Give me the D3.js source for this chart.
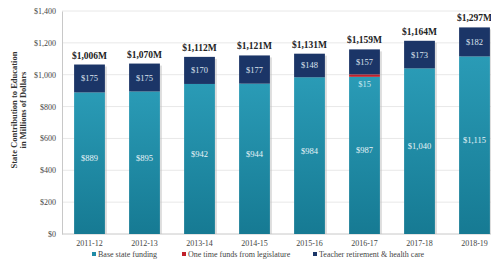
<!DOCTYPE html>
<html>
<head>
<meta charset="utf-8">
<script src="https://cdn.jsdelivr.net/npm/d3@7"></script>
<style>
  body { margin: 0; background: #fff; }
  svg { display: block; font-family: "Liberation Serif", "DejaVu Serif", serif; }
</style>
</head>
<body>
<div id="chart"></div>
<script>
// chart data
const years = ['2011-12', '2012-13', '2013-14', '2014-15', '2015-16', '2016-17', '2017-18', '2018-19'];
const baseFunding = [889, 895, 942, 944, 984, 987, 1040, 1115];
const oneTimeFunds = [0, 0, 0, 0, 0, 15, 0, 0];
const teacherRetirement = [175, 175, 170, 177, 148, 157, 173, 182];
const totalLabels = ['$1,006M', '$1,070M', '$1,112M', '$1,121M', '$1,131M', '$1,159M', '$1,164M', '$1,297M'];
const yTicks = [0, 200, 400, 600, 800, 1000, 1200, 1400];
const seriesNames = ['Base state funding', 'One time funds from legislature', 'Teacher retirement & health care'];
const colors = ['#1f8ba6', '#c0202a', '#1b3567'];

const W = 491, H = 264;
const margin = {top: 11, right: 0, bottom: 30, left: 62};
const plotH = H - margin.top - margin.bottom;

const svg = d3.select('#chart').append('svg')
	.attr('width', W)
	.attr('height', H);

const defs = svg.append('defs');
const grad = defs.append('linearGradient')
	.attr('id', 'baseGrad')
	.attr('x1', 0).attr('y1', 0).attr('x2', 0).attr('y2', 1);
grad.append('stop').attr('offset', '0%').attr('stop-color', '#2a9bb6');
grad.append('stop').attr('offset', '100%').attr('stop-color', '#167a93');

const g = svg.append('g')
	.attr('transform', `translate(${margin.left},${margin.top})`);

const x = d3.scaleBand()
	.domain(years)
	.range([0, 440])
	.paddingInner(0.44)
	.paddingOuter(0.22);

const y = d3.scaleLinear()
	.domain([0, 1400])
	.range([plotH, 0]);

// gridlines
g.selectAll('line.grid')
	.data(yTicks.slice(1))
	.join('line')
	.attr('class', 'grid')
	.attr('x1', 0).attr('x2', W)
	.attr('y1', d => y(d)).attr('y2', d => y(d))
	.attr('stroke', '#e8e8e8')
	.attr('stroke-width', 1);

// y axis
const yAxis = g.append('g')
	.call(d3.axisLeft(y).tickValues(yTicks).tickSize(0).tickPadding(6)
		.tickFormat(d => '$' + d3.format(',')(d)));
yAxis.select('.domain').attr('stroke', '#c8c8c8');
yAxis.selectAll('text')
	.attr('font-family', '"Liberation Serif", serif')
	.attr('font-size', 8)
	.attr('fill', '#444');

// x axis
const xAxis = g.append('g')
	.attr('transform', `translate(0,${plotH})`)
	.call(d3.axisBottom(x).tickSize(0).tickPadding(6));
xAxis.select('.domain').attr('stroke', '#c8c8c8').attr('d', `M0,0H${W}`);
xAxis.selectAll('text')
	.attr('font-family', '"Liberation Serif", serif')
	.attr('font-size', 8)
	.attr('fill', '#444');

// stacked data
const rows = years.map((yr, i) => ({
	year: yr, base: baseFunding[i], onetime: oneTimeFunds[i], teacher: teacherRetirement[i]
}));
const stack = d3.stack().keys(['base', 'onetime', 'teacher']);
const layers = stack(rows);

const fills = ['url(#baseGrad)', colors[1], colors[2]];

// shadow behind bars
g.selectAll('rect.shadow')
	.data(rows)
	.join('rect')
	.attr('class', 'shadow')
	.attr('x', d => x(d.year) + 2)
	.attr('y', d => y(d.base + d.onetime + d.teacher) + 2)
	.attr('width', x.bandwidth())
	.attr('height', d => plotH - y(d.base + d.onetime + d.teacher) - 2)
	.attr('fill', '#bbb')
	.attr('opacity', 0.5);

layers.forEach((layer, li) => {
	g.selectAll('rect.s' + li)
		.data(layer)
		.join('rect')
		.attr('class', 's' + li)
		.attr('x', d => x(d.data.year))
		.attr('y', d => y(d[1]))
		.attr('width', x.bandwidth())
		.attr('height', d => y(d[0]) - y(d[1]))
		.attr('fill', fills[li]);
});

const labelFont = '"Liberation Serif", serif';

// base labels
g.selectAll('text.baseLbl')
	.data(layers[0])
	.join('text')
	.attr('class', 'baseLbl')
	.attr('x', d => x(d.data.year) + x.bandwidth() / 2)
	.attr('y', d => (y(d[0]) + y(d[1])) / 2 - 2)
	.attr('text-anchor', 'middle')
	.attr('font-family', labelFont)
	.attr('font-size', 8.5)
	.attr('fill', '#e8f4f8')
	.text(d => '$' + d3.format(',')(d.data.base));

// one time label
g.selectAll('text.oneLbl')
	.data(layers[1].filter(d => d.data.onetime > 0))
	.join('text')
	.attr('class', 'oneLbl')
	.attr('x', d => x(d.data.year) + x.bandwidth() / 2)
	.attr('y', d => y(d[0]) + 10)
	.attr('text-anchor', 'middle')
	.attr('font-family', labelFont)
	.attr('font-size', 8.5)
	.attr('fill', '#cfe9f2')
	.text(d => '$' + d.data.onetime);

// teacher labels
g.selectAll('text.teachLbl')
	.data(layers[2])
	.join('text')
	.attr('class', 'teachLbl')
	.attr('x', d => x(d.data.year) + x.bandwidth() / 2)
	.attr('y', d => (y(d[0]) + y(d[1])) / 2 + 3)
	.attr('text-anchor', 'middle')
	.attr('font-family', labelFont)
	.attr('font-size', 8.5)
	.attr('fill', '#dde4ef')
	.text(d => '$' + d.data.teacher);

// totals
g.selectAll('text.total')
	.data(layers[2])
	.join('text')
	.attr('class', 'total')
	.attr('x', d => x(d.data.year) + x.bandwidth() / 2)
	.attr('y', (d, i) => y(d[1]) - 6)
	.attr('text-anchor', 'middle')
	.attr('font-family', labelFont)
	.attr('font-weight', 'bold')
	.attr('font-size', 9.5)
	.attr('fill', '#222')
	.text((d, i) => totalLabels[i]);

// y axis title
const yTitle = svg.append('text')
	.attr('transform', 'translate(17,110) rotate(-90)')
	.attr('text-anchor', 'middle')
	.attr('font-family', labelFont)
	.attr('font-weight', 'bold')
	.attr('font-size', 8.5)
	.attr('fill', '#333');
yTitle.append('tspan').attr('x', 0).attr('dy', 0).text('State Contribution to Education');
yTitle.append('tspan').attr('x', 0).attr('dy', 9).text('in Millions of Dollars');

// legend
const legendX = [92, 182, 313];
const legend = svg.append('g');
seriesNames.forEach((name, i) => {
	const lg = legend.append('g').attr('transform', `translate(${legendX[i]},257)`);
	lg.append('rect').attr('x', 0).attr('y', -5).attr('width', 4).attr('height', 4).attr('fill', colors[i]);
	lg.append('text').attr('x', 6).attr('y', 0)
		.attr('font-family', labelFont)
		.attr('font-size', 8)
		.attr('fill', '#444')
		.text(name);
});
</script>
</body>
</html>
